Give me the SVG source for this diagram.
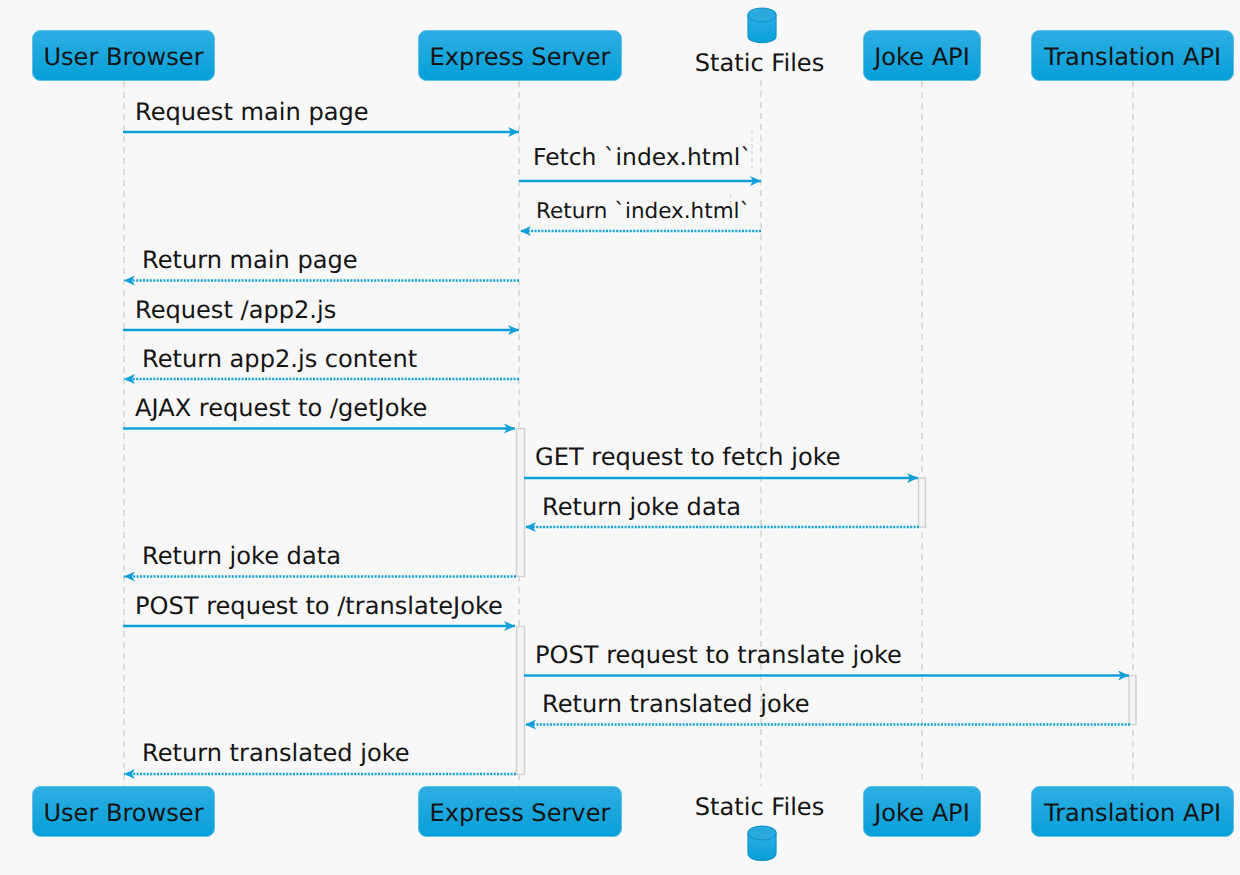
<svg xmlns="http://www.w3.org/2000/svg" width="1240" height="875" viewBox="0 0 1240 875">
<style>
text{font-family:"DejaVu Sans",Verdana,sans-serif;fill:#141414;text-rendering:geometricPrecision}
.n{font-size:24.100px;text-anchor:middle}
.m{font-size:24.100px}
.box{fill:url(#g);stroke:#5fbfe6;stroke-width:1}
.life{stroke:#d4d4d4;stroke-width:1.5;stroke-dasharray:6 5;fill:none}
.act{fill:#f4f4f4;stroke:#d2d2d2;stroke-width:1.5}
.s{stroke:#12a0da;stroke-width:2.500;fill:none}
.r{stroke:#12a0da;stroke-width:2.500;stroke-dasharray:2 1.4;fill:none}
.cyl{fill:url(#g);stroke:#0f93cc;stroke-width:1.2}
.cylt{fill:#2aa9dd;stroke:#0f93cc;stroke-width:1.2}
</style>
<defs>
<linearGradient id="g" x1="0" y1="0" x2="0" y2="1"><stop offset="0" stop-color="#2eaee2"/><stop offset="1" stop-color="#069fd8"/></linearGradient>
<marker id="a" markerUnits="userSpaceOnUse" markerWidth="12" markerHeight="10" refX="11" refY="5" orient="auto"><path d="M0 0L11 5L0 10L3 5Z" fill="#12a0da"/></marker>
</defs>
<rect width="1240" height="875" fill="#f8f8f8"/>
<g id="lifelines">
<path class="life" d="M124 81V786M519 81V786M761 80V786M922 81V786M1133 81V786"/>
<path d="M752 130V172M730.500 194V220" stroke="#dcdcdc" stroke-width="1.500" stroke-dasharray="4 3" fill="none"/>
</g>
<g id="activations">
<rect class="act" x="516.500" y="428.500" width="8" height="148"/>
<rect class="act" x="516.500" y="626.500" width="8" height="148"/>
<rect class="act" x="918.500" y="478" width="7" height="49"/>
<rect class="act" x="1129" y="675.500" width="7" height="49"/>
</g>
<g id="connectors">
<path class="s" marker-end="url(#a)" d="M123 132H519"/>
<path class="s" marker-end="url(#a)" d="M519 181H761"/>
<path class="r" marker-end="url(#a)" d="M761 231H520"/>
<path class="r" marker-end="url(#a)" d="M519 280.500H124"/>
<path class="s" marker-end="url(#a)" d="M123 330H519"/>
<path class="r" marker-end="url(#a)" d="M519 379H124"/>
<path class="s" marker-end="url(#a)" d="M123 428.500H515"/>
<path class="s" marker-end="url(#a)" d="M524 478H918"/>
<path class="r" marker-end="url(#a)" d="M919 527H525"/>
<path class="r" marker-end="url(#a)" d="M516 576.500H124"/>
<path class="s" marker-end="url(#a)" d="M123 626H515"/>
<path class="s" marker-end="url(#a)" d="M524 675.500H1129"/>
<path class="r" marker-end="url(#a)" d="M1130 724.500H525"/>
<path class="r" marker-end="url(#a)" d="M516 774H124"/>
</g>
<g id="labels">
<text class="m" x="135" y="120">Request main page</text>
<text class="m" x="533" y="165" style="font-size:23.400px">Fetch `index.html`</text>
<text class="m" x="536" y="218" style="font-size:21.500px">Return `index.html`</text>
<text class="m" x="142" y="268">Return main page</text>
<text class="m" x="135" y="318">Request /app2.js</text>
<text class="m" x="142" y="367">Return app2.js content</text>
<text class="m" x="135" y="416">AJAX request to /getJoke</text>
<text class="m" x="535" y="465">GET request to fetch joke</text>
<text class="m" x="542" y="515">Return joke data</text>
<text class="m" x="142" y="564">Return joke data</text>
<text class="m" x="135" y="614">POST request to /translateJoke</text>
<text class="m" x="535" y="663">POST request to translate joke</text>
<text class="m" x="542" y="712">Return translated joke</text>
<text class="m" x="142" y="761">Return translated joke</text>
</g>
<g id="user-browser-top"><rect class="box" x="32.500" y="30.500" width="182" height="50" rx="8"/><text class="n" x="123.500" y="64.500">User Browser</text></g>
<g id="express-server-top"><rect class="box" x="418.500" y="30.500" width="203" height="50" rx="8"/><text class="n" x="520" y="64.500">Express Server</text></g>
<g id="static-files-top"><path class="cyl" d="M748 15V36C748 45 776 45 776 36V15Z"/><ellipse class="cylt" cx="762" cy="15" rx="14" ry="7"/><text class="n" x="759.500" y="70.500">Static Files</text></g>
<g id="joke-api-top"><rect class="box" x="863.500" y="30.500" width="117" height="50" rx="8"/><text class="n" x="922" y="64.500">Joke API</text></g>
<g id="translation-api-top"><rect class="box" x="1031.500" y="30.500" width="202" height="50" rx="8"/><text class="n" x="1132.500" y="64.500">Translation API</text></g>
<g id="user-browser-bottom"><rect class="box" x="32.500" y="786.500" width="182" height="50" rx="8"/><text class="n" x="123.500" y="820.500">User Browser</text></g>
<g id="express-server-bottom"><rect class="box" x="418.500" y="786.500" width="203" height="50" rx="8"/><text class="n" x="520" y="820.500">Express Server</text></g>
<g id="static-files-bottom"><text class="n" x="759.500" y="814.500">Static Files</text><path class="cyl" d="M748 833V853C748 863 776 863 776 853V833Z"/><ellipse class="cylt" cx="762" cy="833" rx="14" ry="7"/></g>
<g id="joke-api-bottom"><rect class="box" x="863.500" y="786.500" width="117" height="50" rx="8"/><text class="n" x="922" y="820.500">Joke API</text></g>
<g id="translation-api-bottom"><rect class="box" x="1031.500" y="786.500" width="202" height="50" rx="8"/><text class="n" x="1132.500" y="820.500">Translation API</text></g>
</svg>
